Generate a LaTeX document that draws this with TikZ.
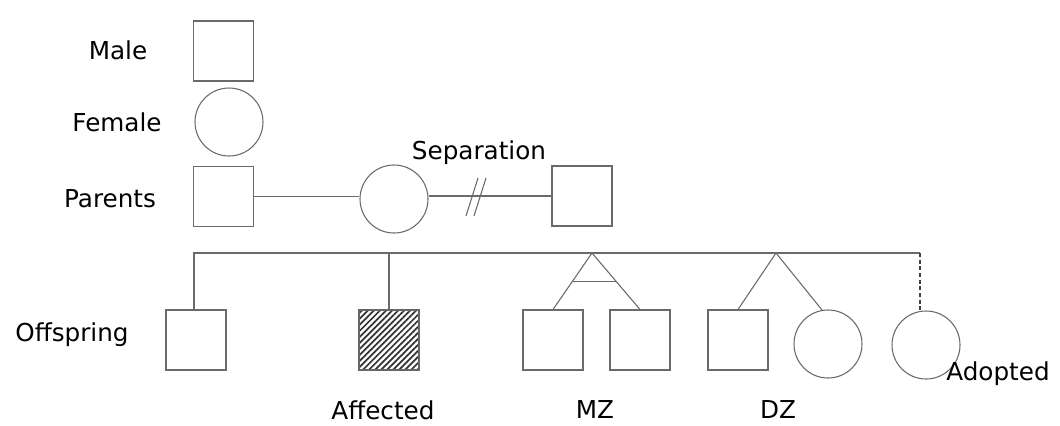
\documentclass[tikz,border=0pt]{standalone}
\usepackage{fontspec}
\setmainfont{DejaVu Sans}
\usetikzlibrary{calc,patterns.meta}
\definecolor{linegray}{HTML}{6A6A6A}
\begin{document}
\begin{tikzpicture}[x=0.75pt,y=-0.75pt,
  lbl/.style={font=\fontsize{18.5}{22}\selectfont, text=black, inner sep=0pt},
  male/.style={draw=linegray, line width=0.8pt, rectangle, minimum size=45pt, inner sep=0pt},
  female/.style={draw=linegray, line width=0.8pt, circle, minimum size=51pt, inner sep=0pt},
  affected/.style={male, draw=black!60, pattern={Lines[angle=45,distance=3.2pt,line width=1.3pt]}, pattern color=black!80},
  conn/.style={draw=linegray, line width=0.8pt}]
\useasboundingbox (0,0) rectangle (1060,425);
\fill[white] (0,0) rectangle (1060,425);

% key
\node[lbl] (tMale) at (118,50) {Male};
\node[male] (keyM) at (223.5,51) {};
\node[lbl] (tFemale) at (117,122) {Female};
\node[female] (keyF) at (229,122) {};

% parents
\node[lbl] (tParents) at (110,199) {Parents};
\node[male] (pm) at (223.5,196.5) {};
\node[female] (pf) at (394,199) {};
\node[male] (ps) at (582,196) {};
\node[lbl] (tSep) at (479,153) {Separation};
\draw[conn] (pm.east) -- (pm.east -| pf.west);
\draw[conn] (pf.east |- ps.west) -- (ps.west);
\coordinate (sepmid) at (476,196);
\draw[conn] ($(sepmid)+(-10,20)$) -- ($(sepmid)+(2,-18)$);
\draw[conn] ($(sepmid)+(-2,20)$) -- ($(sepmid)+(10,-18)$);

% offspring
\node[lbl] (tOff) at (72,335) {Offspring};
\node[male] (o1) at (196,340) {};
\node[affected] (aff) at (389,340) {};
\node[lbl] (tAff) at (383,410) {Affected};
\node[male] (mz1) at (553,340) {};
\node[male] (mz2) at (640,340) {};
\node[lbl] (tMZ) at (595,410) {MZ};
\node[male] (dz1) at (738,340) {};
\node[female] (dz2) at (828,344) {};
\node[lbl] (tDZ) at (778,410) {DZ};
\node[female] (ad) at (926,345) {};
\node[lbl] (tAd) at (998,374) {Adopted};

% sibship line
\coordinate (sibL) at (194,253);
\coordinate (mzA) at (592,253);
\coordinate (dzA) at (776,253);
\coordinate (sibR) at (ad.100 |- sibL);
\draw[conn] (o1.north -| sibL) -- (sibL) -- (sibR);
\draw[conn] (aff.north) -- (aff.north |- sibL);
\draw[conn] (mzA) -- (mz1.north);
\draw[conn] (mzA) -- (mz2.north);
\draw[conn] ($(mzA)!0.5!(mz1.north)$) -- ($(mzA)!0.5!(mz2.north)$);
\draw[conn] (dzA) -- (dz1.north);
\draw[conn] (dzA) -- (dz2.100);
\draw[conn, draw=black!75, line width=1.3pt, dash pattern=on 3pt off 2pt] (sibR) -- (ad.100);
\end{tikzpicture}
\end{document}
